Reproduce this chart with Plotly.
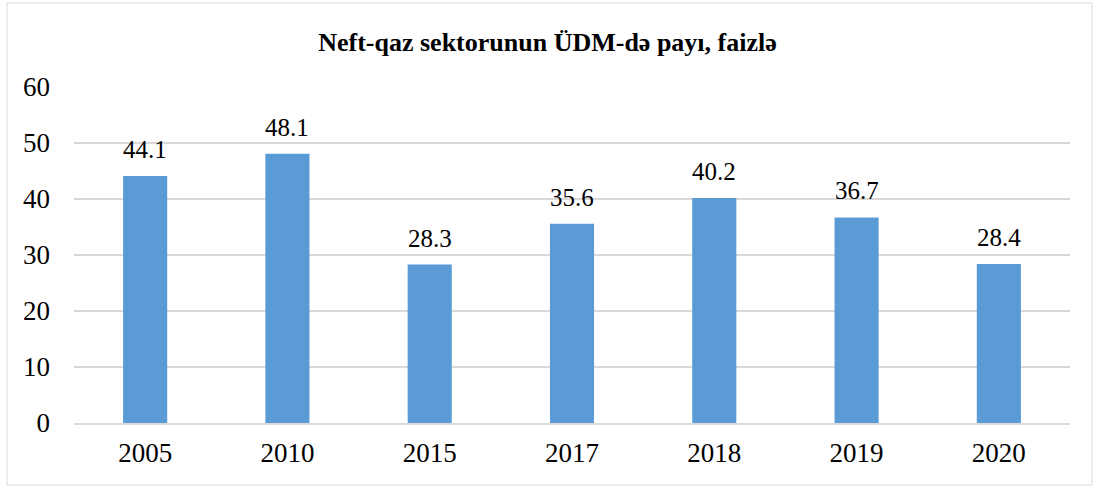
import plotly.graph_objects as go

years = ["2005", "2010", "2015", "2017", "2018", "2019", "2020"]
shares = [44.1, 48.1, 28.3, 35.6, 40.2, 36.7, 28.4]
title_text = "Neft-qaz sektorunun ÜDM-də payı, faizlə"

W, H = 1095, 486
L, R, T, B = 74, 25, 87, 63
pw, ph = W - L - R, H - T - B
SERIF = "Liberation Serif, Times New Roman, serif"

fig = go.Figure(go.Bar(
    x=years, y=shares,
    marker=dict(color="#5B9BD5", line=dict(width=0)),
    hoverinfo="x+y",
))

# on a category axis, annotation x is the category's serial index
for idx, v in enumerate(shares):
    fig.add_annotation(x=idx, y=v, xref="x", yref="y", text=f"{v:.1f}",
                       showarrow=False, yanchor="bottom", yshift=11,
                       font=dict(family=SERIF, size=25, color="#000000"))

def px_x(x):
    return (x - L) / pw

def px_y(y):
    return (H - B - y) / ph

fig.update_layout(
    width=W, height=H,
    margin=dict(l=L, r=R, t=T, b=B),
    paper_bgcolor="white", plot_bgcolor="white",
    bargap=0.69,
    showlegend=False,
    title=dict(text="<b>" + title_text + "</b>", x=0.5, xanchor="center",
               y=1 - 42 / H, yanchor="middle",
               font=dict(family=SERIF, size=26, color="#000000")),
    font=dict(family=SERIF, size=27, color="#000000"),
    xaxis=dict(type="category", categoryorder="array", categoryarray=years,
               showgrid=False, showline=True, linecolor="#d9d9d9", linewidth=2,
               ticks="", tickfont=dict(family=SERIF, size=27), ticklabelstandoff=5),
    yaxis=dict(range=[0, 60], dtick=10, showgrid=True, gridcolor="#d9d9d9", gridwidth=1.5,
               zeroline=False, showline=False, ticks="", tickfont=dict(family=SERIF, size=27),
               ticklabelstandoff=23),
    shapes=[dict(type="rect", xref="paper", yref="paper",
                 x0=px_x(7), x1=px_x(1092), y0=px_y(485), y1=px_y(3),
                 line=dict(color="#d9d9d9", width=1), layer="below")],
)

fig.write_html("out.html", config={"displayModeBar": False},
               post_script="document.body.style.margin='0';document.body.style.overflow='hidden';")
